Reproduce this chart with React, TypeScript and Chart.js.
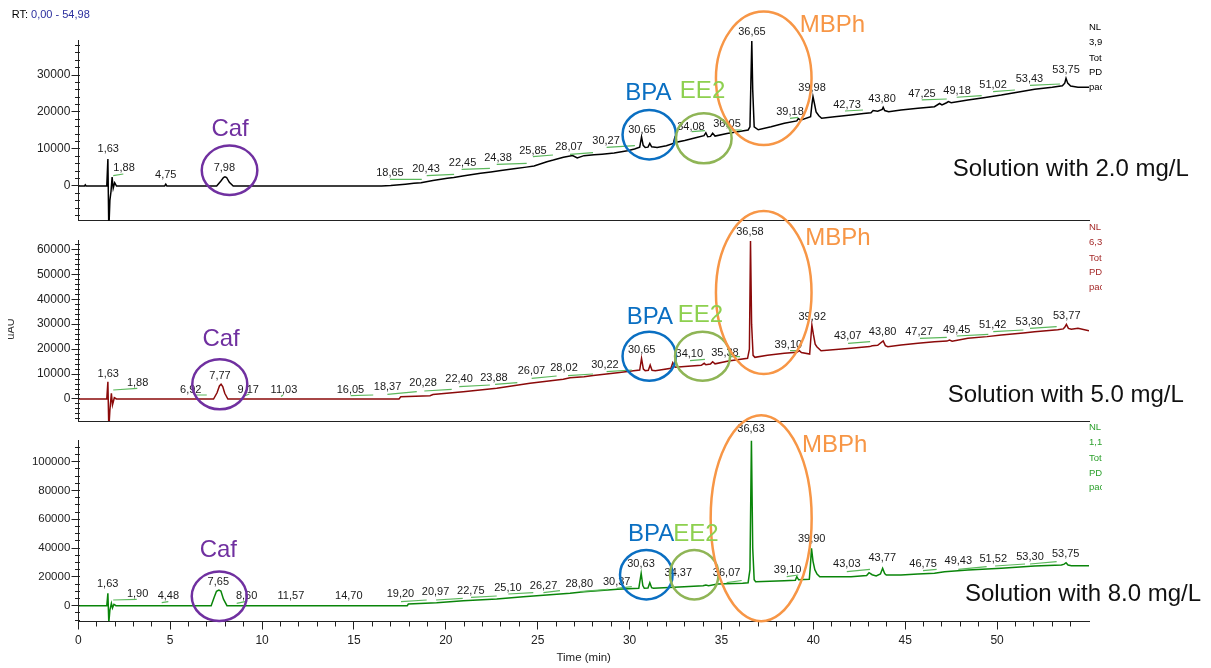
import React, { useEffect, useRef } from 'react';
import { Chart, registerables } from 'chart.js';

Chart.register(...registerables);

const FONT = "'Liberation Sans', Arial, Helvetica, sans-serif";

const PURPLE = '#7030A0';
const BLUE = '#0A6FC2';
const EE_RING = '#8FB556';
const EE_TEXT = '#8DD04F';
const ORANGE = '#F79646';
const MARK_GREEN = '#5CB85C';

// Retention-time axis (min)
const timeTicks = [0, 5, 10, 15, 20, 25, 30, 35, 40, 45, 50];

// Intensity tick labels per panel
const sol2YTicks = [0, 10000, 20000, 30000];
const sol5YTicks = [0, 10000, 20000, 30000, 40000, 50000, 60000];
const sol8YTicks = [0, 20000, 40000, 60000, 80000, 100000];

// Chromatogram, 2.0 mg/L solution: [time (min), intensity]
const sol2Trace: [number, number][] = [
  [0, 0], [0.34, 0], [0.38, 300], [0.42, 0], [1.55, 0], [1.61, 7300], [1.66, -12000], [1.72, -3800],
  [1.78, -1500], [1.84, 2400], [1.9, -600], [1.98, 900], [2.08, 0], [4.7, 0], [4.76, 500], [4.82, 0],
  [7.53, 0], [7.75, 1300], [7.9, 2300], [7.98, 2500], [8.07, 2300], [8.22, 1000], [8.43, 0],
  [16.5, 0], [17.0, 150], [17.8, 500], [18.26, 730], [18.65, 900], [19.3, 1500], [20.08, 2080],
  [20.43, 2300], [21.0, 2750], [21.89, 3430], [22.45, 3800], [23.0, 4200], [23.7, 4680], [24.38, 5100],
  [24.8, 5400], [25.5, 6570], [25.85, 7000], [26.4, 7750], [26.9, 8250], [27.15, 7600], [27.52, 8200],
  [28.07, 8450], [28.5, 8600], [29.16, 8900], [29.88, 9550], [30.27, 10000], [30.55, 10500],
  [30.65, 13300], [30.74, 11000], [30.85, 10400], [31.0, 10500], [31.1, 11500], [31.2, 10600],
  [31.5, 10400], [32.0, 10900], [32.38, 11500], [32.45, 12900], [32.52, 11800], [33.0, 12300],
  [33.7, 13150], [34.05, 13600], [34.15, 14400], [34.25, 13300], [34.4, 13400], [34.52, 14250],
  [34.65, 13500], [35.3, 14200], [36.05, 14800], [36.45, 15140], [36.55, 16000], [36.6, 28000],
  [36.65, 39200], [36.7, 26000], [36.78, 16000], [37.0, 15200], [37.7, 16000], [38.42, 16950],
  [39.1, 17600], [39.18, 18200], [39.3, 17800], [39.85, 18700], [39.92, 22000], [39.98, 24140],
  [40.05, 22500], [40.15, 20000], [40.3, 19000], [40.45, 18300], [41.15, 18730], [42.05, 19190],
  [42.73, 19600], [43.14, 19820], [43.25, 20400], [43.5, 20200], [43.75, 20700], [43.8, 21270],
  [43.88, 20400], [44.1, 20090], [44.77, 20540], [45.69, 21000], [46.59, 21440], [46.87, 22300],
  [47.0, 21900], [47.25, 22500], [47.35, 22800], [47.5, 22520], [48.41, 23250], [49.18, 23800],
  [50.23, 24600], [51.02, 25300], [52.04, 26140], [53.0, 26700], [53.55, 27100], [53.68, 27800],
  [53.75, 29100], [53.84, 27800], [54.0, 27000], [54.4, 26680], [55, 26680],
];

// Chromatogram, 5.0 mg/L solution
const sol5Trace: [number, number][] = [
  [0, 0], [1.55, 0], [1.61, 6900], [1.66, -12000], [1.72, -4400], [1.8, 2300], [1.86, -2400],
  [1.96, 500], [2.08, 0], [7.36, 0], [7.55, 2500], [7.68, 5200], [7.77, 5900], [7.86, 5000],
  [7.97, 2300], [8.14, 0], [17.45, 0], [17.55, 900], [19.14, 1340], [19.3, 1800], [20.95, 2940],
  [22.77, 4280], [24.58, 6280], [26.39, 7880], [26.76, 8550], [27.52, 8950], [28.02, 9400],
  [29.34, 10550], [30.22, 11300], [30.55, 11620], [30.65, 16300], [30.75, 12000], [30.85, 11350],
  [31.02, 11500], [31.12, 13630], [31.22, 11500], [31.4, 11350], [32.25, 12300], [32.35, 14550],
  [32.48, 12700], [33.0, 13000], [33.9, 13500], [34.06, 14300], [34.15, 13700], [34.4, 14000],
  [34.52, 14950], [34.65, 14100], [35.38, 15200], [36.42, 16300], [36.52, 20000], [36.58, 63300],
  [36.64, 30000], [36.72, 17500], [36.82, 16700], [37.5, 17500], [38.42, 18300], [39.1, 18700],
  [39.24, 19400], [39.35, 18600], [39.8, 18030], [39.86, 24000], [39.92, 29660], [40.0, 26000],
  [40.1, 22000], [40.19, 20970], [40.42, 19370], [42.05, 20300], [43.07, 21000], [43.2, 21300],
  [43.5, 21500], [43.8, 23250], [43.92, 21400], [44.05, 20970], [44.77, 21640], [45.69, 22320],
  [46.59, 22970], [47.27, 23200], [47.41, 23600], [47.55, 23200], [48.41, 24310], [49.45, 25000],
  [50.23, 25650], [51.42, 26500], [52.04, 26990], [53.3, 27800], [53.6, 28100], [53.68, 28700],
  [53.77, 29940], [53.88, 28300], [54.04, 27930], [54.4, 28330], [55, 27370],
];

// Chromatogram, 8.0 mg/L solution
const sol8Trace: [number, number][] = [
  [0, 0], [1.55, 0], [1.61, 8600], [1.66, -12000], [1.72, -3000], [1.8, 1670], [1.86, -1600],
  [1.94, 970], [2.05, 0], [7.23, 0], [7.4, 6000], [7.52, 10000], [7.65, 10900], [7.76, 10200],
  [7.9, 4500], [8.09, 0], [17.9, 0], [17.96, 1180], [19.5, 2080], [20.95, 3470], [22.77, 4650],
  [24.22, 6250], [25.49, 7430], [26.76, 8610], [27.52, 9720], [29.34, 11390], [30.5, 12080],
  [30.63, 22500], [30.72, 14000], [30.8, 12080], [31.0, 12300], [31.1, 15970], [31.2, 12500],
  [31.3, 12080], [32.97, 13190], [34.0, 13800], [34.15, 14370], [34.3, 13900], [34.79, 15070],
  [36.15, 15550], [36.45, 15970], [36.55, 25000], [36.63, 115000], [36.7, 40000], [36.78, 18000],
  [36.86, 16670], [38.42, 17360], [39.02, 17600], [39.1, 20140], [39.2, 18000], [39.78, 18330],
  [39.84, 28000], [39.9, 39860], [39.98, 31000], [40.08, 25000], [40.2, 22000], [40.35, 20140],
  [42.05, 20140], [42.9, 21000], [43.03, 22920], [43.2, 21500], [43.42, 20620], [43.65, 22000],
  [43.77, 25970], [43.88, 22300], [43.97, 21320], [44.77, 21320], [45.69, 22010], [46.59, 22500],
  [47.14, 23610], [48.41, 24790], [50.23, 25970], [52.04, 27570], [53.5, 28260], [53.65, 28900],
  [53.75, 29860], [53.86, 28300], [54.04, 27780], [55, 27780],
];

// Peak retention-time labels: [text, time anchor, intensity anchor]
const sol2Peaks: [string, number, number][] = [
  ['1,63', 1.63, 9920], ['1,88', 2.49, 4780], ['4,75', 4.76, 2970], ['7,98', 7.95, 4950],
  ['18,65', 16.96, 3510], ['20,43', 18.92, 4510], ['22,45', 20.91, 6300], ['24,38', 22.84, 7650],
  ['25,85', 24.74, 9540], ['28,07', 26.7, 10620], ['30,27', 28.72, 12240], ['30,65', 30.67, 15140],
  ['34,08', 33.34, 16030], ['36,05', 35.3, 16680], ['36,65', 36.66, 41550], ['39,18', 38.73, 19920],
  ['39,98', 39.93, 26410], ['42,73', 41.83, 21890], ['43,80', 43.74, 23520], ['47,25', 45.91, 24870],
  ['49,18', 47.82, 25760], ['51,02', 49.78, 27300], ['53,43', 51.76, 28920], ['53,75', 53.75, 31350],
];
const sol5Peaks: [string, number, number][] = [
  ['1,63', 1.63, 10020], ['1,88', 3.23, 6290], ['6,92', 6.12, 3610], ['7,77', 7.71, 9340],
  ['9,17', 9.25, 3610], ['11,03', 11.19, 3610], ['16,05', 14.81, 3610], ['18,37', 16.83, 4690],
  ['20,28', 18.76, 6290], ['22,40', 20.72, 7900], ['23,88', 22.62, 8540], ['26,07', 24.66, 11340],
  ['28,02', 26.43, 12300], ['30,22', 28.66, 13630], ['30,65', 30.66, 19640], ['34,10', 33.25, 18040],
  ['35,38', 35.19, 18560], ['36,58', 36.55, 67050], ['39,10', 38.64, 21640], ['39,92', 39.94, 32750],
  ['43,07', 41.87, 25250], ['43,80', 43.77, 26970], ['47,27', 45.75, 26970], ['49,45', 47.8, 27660],
  ['51,42', 49.76, 29660], ['53,30', 51.75, 30740], ['53,77', 53.79, 33270],
];
const sol8Peaks: [string, number, number][] = [
  ['1,63', 1.6, 15070], ['1,90', 3.23, 8120], ['4,48', 4.9, 6940], ['7,65', 7.62, 16250],
  ['8,60', 9.16, 6940], ['11,57', 11.57, 6940], ['14,70', 14.72, 6940], ['19,20', 17.53, 7920],
  ['20,97', 19.44, 9300], ['22,75', 21.36, 10420], ['25,10', 23.38, 12500], ['26,27', 25.32, 13890],
  ['28,80', 27.26, 15070], ['30,37', 29.3, 16250], ['30,63', 30.62, 28750], ['34,37', 32.65, 22920],
  ['36,07', 35.28, 22920], ['36,63', 36.61, 122490], ['39,10', 38.6, 24790], ['39,90', 39.91, 46110],
  ['43,03', 41.82, 28960], ['43,77', 43.75, 33330], ['46,75', 45.97, 28960], ['49,43', 47.89, 31250],
  ['51,52', 49.79, 32430], ['53,30', 51.79, 34030], ['53,75', 53.73, 35690],
];

// Integration baselines: [t1, v1, t2, v2]
const sol2Marks: number[][] = [
  [1.9, 2780, 2.45, 3240], [16.96, 1800, 18.69, 1800], [18.96, 2780, 20.45, 3160],
  [20.86, 4510, 22.4, 4780], [22.77, 5870, 24.4, 6140], [24.74, 7920, 25.83, 8380],
  [26.76, 8570, 28.01, 9000], [28.75, 10460, 30.29, 10890], [33.38, 14680, 34.1, 14950],
  [35.46, 15140, 36.1, 15140], [38.73, 18300, 39.17, 18570], [41.72, 20270, 42.7, 20540],
  [45.9, 23250, 47.26, 23520], [47.8, 23980, 49.16, 24410], [49.78, 25490, 50.97, 25950],
  [51.79, 27220, 53.42, 27570],
];
const sol5Marks: number[][] = [
  [1.9, 3610, 3.21, 4290], [6.35, 1600, 6.99, 1600], [9.07, 1320, 9.31, 2000],
  [11.03, 1000, 11.14, 1600], [14.82, 1320, 16.05, 1600], [16.82, 1880, 18.42, 2930],
  [18.83, 3210, 20.32, 3890], [20.73, 4930, 22.4, 5610], [22.68, 5890, 23.89, 6530],
  [24.67, 8300, 26.03, 9220], [26.65, 9340, 28.01, 10020], [28.75, 10940, 30.12, 11620],
  [33.29, 15350, 34.1, 15910], [35.46, 16950, 36.01, 16950], [38.73, 19360, 39.18, 19360],
  [41.89, 22320, 43.09, 22970], [45.8, 24330, 47.26, 24730], [47.8, 25250, 49.52, 25930],
  [49.79, 26970, 51.43, 27660], [51.79, 28340, 53.24, 28980],
];
const sol8Marks: number[][] = [
  [1.9, 3960, 3.18, 4440], [4.54, 2080, 4.9, 2780], [8.62, 1670, 9.07, 2780],
  [17.56, 2780, 18.96, 3960], [19.47, 3960, 20.92, 5140], [21.37, 5830, 22.77, 6740],
  [23.4, 8120, 24.76, 9030], [25.31, 9030, 26.21, 10420], [27.3, 9720, 28.84, 11390],
  [29.3, 12080, 30.12, 13190], [35.28, 16000, 36.1, 17500], [38.55, 20140, 39.18, 21320],
  [41.82, 23610, 43.08, 25280], [45.97, 24300, 46.71, 25280], [47.89, 25280, 49.43, 27080],
  [49.89, 27570, 51.52, 28960], [51.79, 28960, 53.24, 30550],
];

type Ring = { t: number; v: number; rx: number; ry: number; color: string };
type Callout = { text: string; t: number; v: number; color: string; align?: CanvasTextAlign };

const sol2Rings: Ring[] = [
  { t: 8.23, v: 4240, rx: 27.8, ry: 24.7, color: PURPLE },
  { t: 31.07, v: 13870, rx: 26.7, ry: 24.7, color: BLUE },
  { t: 34.04, v: 12890, rx: 27.8, ry: 25, color: EE_RING },
  { t: 37.3, v: 29110, rx: 47.8, ry: 66.7, color: ORANGE },
];
const sol5Rings: Ring[] = [
  { t: 7.7, v: 5890, rx: 27.5, ry: 25, color: PURPLE },
  { t: 31.07, v: 17150, rx: 26.7, ry: 24.5, color: BLUE },
  { t: 33.97, v: 17150, rx: 27.5, ry: 24.5, color: EE_RING },
  { t: 37.3, v: 42690, rx: 47.8, ry: 81.5, color: ORANGE },
];
const sol8Rings: Ring[] = [
  { t: 7.67, v: 6530, rx: 27.5, ry: 24.7, color: PURPLE },
  { t: 30.91, v: 21530, rx: 26.3, ry: 24.7, color: BLUE },
  { t: 33.52, v: 21530, rx: 24.2, ry: 24.7, color: EE_RING },
  { t: 37.16, v: 60690, rx: 50.5, ry: 103, color: ORANGE },
];

const sol2Callouts: Callout[] = [
  { text: 'Caf', t: 8.26, v: 15270, color: PURPLE },
  { text: 'BPA', t: 31.02, v: 25080, color: BLUE },
  { text: 'EE2', t: 33.97, v: 25540, color: EE_TEXT },
  { text: 'MBPh', t: 41.04, v: 43300, color: ORANGE },
  { text: 'Solution with 2.0 mg/L', t: 47.58, v: 4540, color: '#111', align: 'left' },
];
const sol5Callouts: Callout[] = [
  { text: 'Caf', t: 7.77, v: 23730, color: PURPLE },
  { text: 'BPA', t: 31.1, v: 32670, color: BLUE },
  { text: 'EE2', t: 33.86, v: 33350, color: EE_TEXT },
  { text: 'MBPh', t: 41.34, v: 64450, color: ORANGE },
  { text: 'Solution with 5.0 mg/L', t: 47.31, v: 1280, color: '#111', align: 'left' },
];
const sol8Callouts: Callout[] = [
  { text: 'Caf', t: 7.62, v: 38120, color: PURPLE },
  { text: 'BPA', t: 31.17, v: 49230, color: BLUE },
  { text: 'EE2', t: 33.61, v: 49650, color: EE_TEXT },
  { text: 'MBPh', t: 41.16, v: 111030, color: ORANGE },
  { text: 'Solution with 8.0 mg/L', t: 48.25, v: 7570, color: '#111', align: 'left' },
];

type Panel = {
  trace: [number, number][];
  color: string;
  yMin: number;
  yMax: number;
  yTicks: number[];
  yMinorStep: number;
  yFont: number;
  peaks: [string, number, number][];
  marks: number[][];
  rings: Ring[];
  callouts: Callout[];
  padTop: number;
  padBottom: number;
  timeAxis: boolean;
};

const panels: Panel[] = [
  {
    trace: sol2Trace, color: '#000000', yMin: -9380, yMax: 39460, yTicks: sol2YTicks, yMinorStep: 2000,
    yFont: 12, peaks: sol2Peaks, marks: sol2Marks, rings: sol2Rings, callouts: sol2Callouts,
    padTop: 40, padBottom: 447.3, timeAxis: false,
  },
  {
    trace: sol5Trace, color: '#8B0A0A', yMin: -8820, yMax: 63450, yTicks: sol5YTicks, yMinorStep: 2000,
    yFont: 12, peaks: sol5Peaks, marks: sol5Marks, rings: sol5Rings, callouts: sol5Callouts,
    padTop: 240.7, padBottom: 247, timeAxis: false,
  },
  {
    trace: sol8Trace, color: '#0A850A', yMin: -10620, yMax: 114580, yTicks: sol8YTicks, yMinorStep: 5000,
    yFont: 11.5, peaks: sol8Peaks, marks: sol8Marks, rings: sol8Rings, callouts: sol8Callouts,
    padTop: 440.7, padBottom: 0, timeAxis: true,
  },
];

// Side notes at the right edge of each panel (cut off by the frame)
const sideNotes = [
  { color: '#000000', lines: ['NL:', '3,9', 'Tot', 'PD', 'pac'], centers: [27, 42, 57.5, 72, 87] },
  { color: '#A52A2A', lines: ['NL:', '6,3', 'Tot', 'PD', 'pac'], centers: [226.7, 241.7, 258.3, 272.3, 287.3] },
  { color: '#2CA02C', lines: ['NL:', '1,1', 'Tot', 'PD', 'pac'], centers: [426.7, 441.7, 458.3, 472.7, 486.7] },
];

const crisp = (p: number) => Math.round(p - 0.5) + 0.5;

function decorPlugin(panel: Panel) {
  return {
    id: 'panelDecor',
    afterDraw(chart: any) {
      const { ctx, chartArea } = chart;
      const xs = chart.scales.x;
      const ys = chart.scales.y;
      ctx.save();

      // axis tick marks (major + minor)
      ctx.strokeStyle = '#222';
      ctx.lineWidth = 1;
      const ax = crisp(chartArea.left);
      const first = Math.ceil(panel.yMin / panel.yMinorStep) * panel.yMinorStep;
      ctx.beginPath();
      for (let v = first; v <= panel.yMax; v += panel.yMinorStep) {
        const py = crisp(ys.getPixelForValue(v));
        const major = panel.yTicks.includes(v);
        ctx.moveTo(ax - (major ? 7 : 3.5), py);
        ctx.lineTo(ax + 1.5, py);
      }
      if (panel.timeAxis) {
        const ay = crisp(chartArea.bottom);
        for (let t = 0; t <= 54; t += 1) {
          const px = crisp(xs.getPixelForValue(t));
          const major = timeTicks.includes(t);
          ctx.moveTo(px, ay);
          ctx.lineTo(px, ay + (major ? 8 : 5));
        }
      }
      ctx.stroke();

      // retention time labels
      ctx.fillStyle = '#1a1a1a';
      ctx.font = `11px ${FONT}`;
      ctx.textAlign = 'center';
      ctx.textBaseline = 'middle';
      for (const [text, t, v] of panel.peaks) {
        ctx.fillText(text, xs.getPixelForValue(t), ys.getPixelForValue(v));
      }

      // compound rings
      ctx.lineWidth = 2.5;
      for (const r of panel.rings) {
        ctx.strokeStyle = r.color;
        ctx.beginPath();
        ctx.ellipse(xs.getPixelForValue(r.t), ys.getPixelForValue(r.v), r.rx, r.ry, 0, 0, Math.PI * 2);
        ctx.stroke();
      }

      // compound names and sample description
      ctx.font = `24px ${FONT}`;
      for (const c of panel.callouts) {
        ctx.fillStyle = c.color;
        ctx.textAlign = c.align || 'center';
        ctx.fillText(c.text, xs.getPixelForValue(c.t), ys.getPixelForValue(c.v));
      }
      ctx.restore();
    },
  };
}

function buildConfig(panel: Panel): any {
  const markPoints: { x: number; y: number | null }[] = [];
  for (const [t1, v1, t2, v2] of panel.marks) {
    markPoints.push({ x: t1, y: v1 }, { x: t2, y: v2 }, { x: t2, y: null });
  }
  return {
    type: 'line',
    data: {
      datasets: [
        {
          data: markPoints,
          borderColor: MARK_GREEN,
          borderWidth: 1.2,
          pointRadius: 0,
          spanGaps: false,
          tension: 0,
          clip: false,
        },
        {
          data: panel.trace.map(([t, v]) => ({ x: t, y: v })),
          borderColor: panel.color,
          borderWidth: 1.5,
          pointRadius: 0,
          tension: 0,
          fill: false,
        },
      ],
    },
    options: {
      responsive: false,
      maintainAspectRatio: false,
      animation: false,
      events: [],
      layout: { padding: { left: 8.3, right: 122, top: panel.padTop, bottom: panel.padBottom } },
      plugins: { legend: { display: false }, tooltip: { enabled: false }, title: { display: false } },
      scales: {
        x: {
          type: 'linear',
          min: 0,
          max: 55,
          grid: { display: false, drawTicks: false },
          border: { display: true, color: '#222', width: 1 },
          ticks: {
            display: panel.timeAxis,
            padding: 12,
            color: '#222',
            font: { family: FONT, size: 12 },
            callback: (v: number) => String(v),
          },
          afterBuildTicks: (s: any) => {
            s.ticks = timeTicks.map((v) => ({ value: v }));
          },
          afterFit: (s: any) => {
            s.height = panel.timeAxis ? 47 : 0;
          },
          title: {
            display: panel.timeAxis,
            text: 'Time (min)',
            color: '#222',
            font: { family: FONT, size: 11.5 },
            padding: { top: 0, bottom: 3 },
          },
        },
        y: {
          type: 'linear',
          min: panel.yMin,
          max: panel.yMax,
          grid: { display: false, drawTicks: false },
          border: { display: true, color: '#222', width: 1 },
          ticks: {
            padding: 8,
            color: '#222',
            font: { family: FONT, size: panel.yFont },
            callback: (v: number) => String(v),
          },
          afterBuildTicks: (s: any) => {
            s.ticks = panel.yTicks.map((v) => ({ value: v }));
          },
          afterFit: (s: any) => {
            s.width = 70;
          },
        },
      },
    },
    plugins: [decorPlugin(panel)],
  };
}

export default function App() {
  const ref0 = useRef<HTMLCanvasElement>(null);
  const ref1 = useRef<HTMLCanvasElement>(null);
  const ref2 = useRef<HTMLCanvasElement>(null);
  const refs = [ref0, ref1, ref2];

  useEffect(() => {
    const charts = panels.map((p, i) => new Chart(refs[i].current as HTMLCanvasElement, buildConfig(p)));
    return () => charts.forEach((c) => c.destroy());
  }, []);

  return (
    <div
      style={{
        position: 'fixed',
        left: 0,
        top: 0,
        width: 1211,
        height: 668,
        background: '#fff',
        overflow: 'hidden',
        fontFamily: FONT,
      }}
    >
      {refs.map((r, i) => (
        <canvas
          key={i}
          ref={r}
          width={1211}
          height={668}
          style={{ position: 'absolute', left: 0, top: 0, width: 1211, height: 668 }}
        />
      ))}

      <div style={{ position: 'absolute', left: 11.7, top: 7, fontSize: 11, lineHeight: '14px', color: '#000', whiteSpace: 'nowrap' }}>
        RT: <span style={{ color: '#2B2F9E' }}>0,00 - 54,98</span>
      </div>

      {sideNotes.map((n, i) =>
        n.lines.map((line, j) => (
          <div
            key={`${i}-${j}`}
            style={{
              position: 'absolute',
              left: 1089,
              top: n.centers[j] - 6,
              width: 13,
              height: 12,
              overflow: 'hidden',
              whiteSpace: 'nowrap',
              fontSize: 9.5,
              lineHeight: '12px',
              color: n.color,
            }}
          >
            {line}
          </div>
        ))
      )}

      <div style={{ position: 'absolute', left: 8, top: 316, width: 8, height: 26, overflow: 'hidden' }}>
        <div
          style={{
            position: 'absolute',
            left: -11.5,
            top: 7,
            width: 26,
            height: 12,
            fontSize: 11,
            lineHeight: '12px',
            color: '#333',
            textAlign: 'center',
            transform: 'rotate(-90deg)',
            whiteSpace: 'nowrap',
          }}
        >
          uAU
        </div>
      </div>
    </div>
  );
}
